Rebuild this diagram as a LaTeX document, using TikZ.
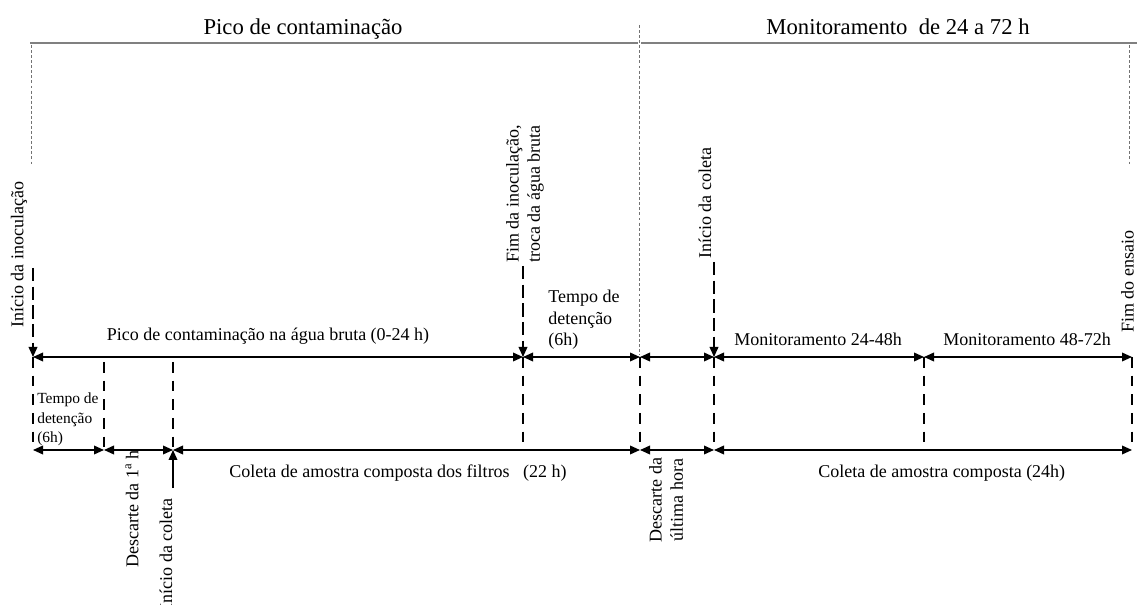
\documentclass[tikz,border=0pt]{standalone}
\usepackage{fontspec}
\setmainfont{Liberation Serif}
\usetikzlibrary{arrows.meta}
\begin{document}
\begin{tikzpicture}[x=0.75pt,y=-0.75pt,
  topline/.style={draw=black!50, line width=1.3pt},
  dotv/.style={draw=black!55, line width=0.7pt, dash pattern=on 2.2pt off 1.6pt},
  span/.style={{Triangle[length=7.5pt,width=6.5pt]}-{Triangle[length=7.5pt,width=6.5pt]}, line width=1.1pt},
  tickline/.style={line width=1.7pt, dash pattern=on 8pt off 6pt},
  markarrow/.style={-{Triangle[length=7.5pt,width=6.5pt]}, line width=1.1pt, dash pattern=on 10pt off 4pt},
  uparrow/.style={-{Triangle[length=7.5pt,width=6.5pt]}, line width=1.1pt},
  lbl/.style={font=\fontsize{13.5}{16}\selectfont, inner sep=0pt},
  small/.style={font=\fontsize{11.6}{14.3}\selectfont, inner sep=0pt, align=left},
  ttl/.style={font=\fontsize{17}{20}\selectfont, inner sep=0pt}]
\useasboundingbox (0,0) rectangle (1138,605);
\clip (0,0) rectangle (1138,605);

% section headers
\coordinate (h0) at (30,43);
\coordinate (h1) at (638,43);
\coordinate (h2) at (641,43);
\coordinate (h3) at (1137,43);
\draw[topline] (h0) -- (h1);
\draw[topline] (h2) -- (h3);
\node[ttl, anchor=base] (t1) at (303,35) {Pico de contaminação};
\node[ttl, anchor=base] (t2) at (898,35) {Monitoramento\ \ de 24 a 72 h};

\coordinate (d0a) at (31,45);  \coordinate (d0b) at (31,165);
\coordinate (d7a) at (1129,45); \coordinate (d7b) at (1129,165);
\coordinate (d4a) at (639,25); \coordinate (d4b) at (639,355);
\draw[dotv] (d0a) -- (d0b);
\draw[dotv] (d7a) -- (d7b);
\draw[dotv] (d4a) -- (d4b);

% time ticks
\foreach \n/\x in {0/33,1/104,2/173,3/523,4/640,5/714,6/924,7/1132}{
  \coordinate (u\n) at (\x,357);
  \coordinate (l\n) at (\x,450);
}
\coordinate (s1) at (104,362);
\coordinate (s2) at (173,362);

% dashed verticals
\draw[tickline] (u0) -- (l0);
\draw[tickline] (s1) -- (l1);
\draw[tickline] (s2) -- (l2);
\draw[tickline] (u3) -- (l3);
\draw[tickline] (u4) -- (l4);
\draw[tickline] (u5) -- (l5);
\draw[tickline] (u6) -- (l6);
\draw[tickline] (u7) -- (l7);

% upper spans
\draw[span] (u0) -- (u3);
\draw[span] (u3) -- (u4);
\draw[span] (u4) -- (u5);
\draw[span] (u5) -- (u6);
\draw[span] (u6) -- (u7);

% lower spans
\draw[span] (l0) -- (l1);
\draw[span] (l1) -- (l2);
\draw[span] (l2) -- (l4);
\draw[span] (l4) -- (l5);
\draw[span] (l5) -- (l7);

% event markers
\coordinate (m0) at (33,268);
\coordinate (m3) at (523,266);
\coordinate (m5) at (714,262);
\coordinate (c2) at (173,488);
\draw[markarrow] (m0) -- (u0);
\draw[markarrow] (m3) -- (u3);
\draw[markarrow] (m5) -- (u5);
\draw[uparrow] (c2) -- (l2);

% labels on the upper line
\node[lbl, anchor=base] (pico) at (268,341) {Pico de contaminação na água bruta (0-24 h)};
\node[lbl, anchor=north west, align=left] (td2) at (548,290) {Tempo de\\detenção\\(6h)};
\node[lbl, anchor=base] (mon1) at (818,346) {Monitoramento 24-48h};
\node[lbl, anchor=base] (mon2) at (1027,346) {Monitoramento 48-72h};

% labels on the lower line
\node[small, anchor=north west] (td1) at (37,393) {Tempo de\\detenção\\(6h)};
\node[lbl, anchor=base west] (col1) at (229,478) {Coleta de amostra composta dos filtros \ \ (22 h)};
\node[lbl, anchor=base west] (col2) at (818,478) {Coleta de amostra composta (24h)};

% rotated labels
\node[lbl, rotate=90, anchor=west] (ini) at (19,328) {Início da inoculação};
\node[lbl, rotate=90, anchor=west, align=left] (fim) at (525,263) {Fim da inoculação,\\troca da água bruta};
\node[lbl, rotate=90, anchor=west] (inic2) at (705,259) {Início da coleta};
\node[lbl, rotate=90, anchor=south west] (fimens) at (1134,333) {Fim do ensaio};
\node[lbl, rotate=90, anchor=west] (desc1) at (132,568) {Descarte da 1\textsuperscript{a} h};
\node[lbl, rotate=90, anchor=east] (inic1) at (166,498) {Início da coleta};
\node[lbl, rotate=90, align=center] (desc2) at (666,500) {Descarte da\\última hora};
\end{tikzpicture}
\end{document}
